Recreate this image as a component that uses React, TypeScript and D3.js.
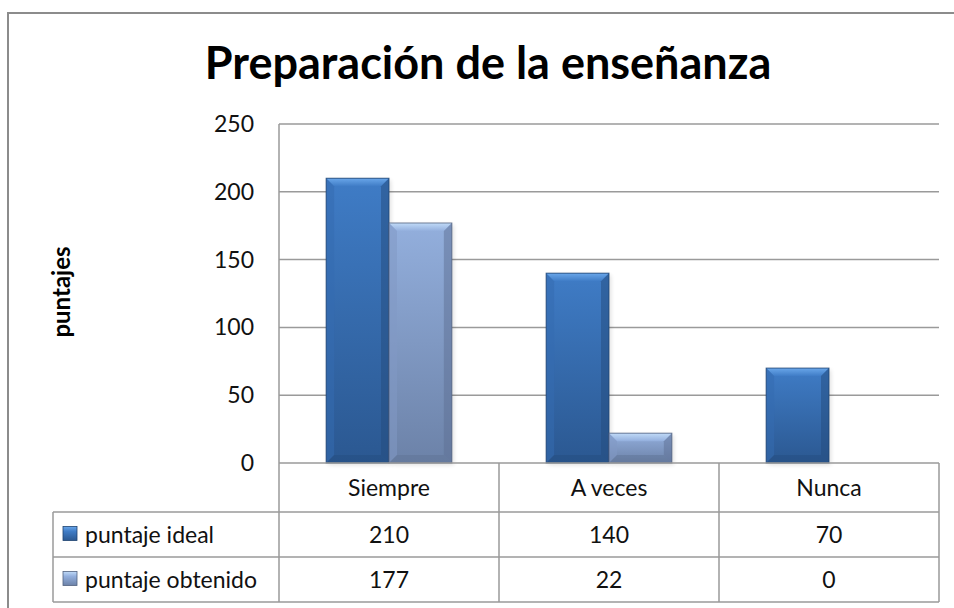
import React from "react";
import * as d3 from "d3";

// datos del gráfico
const categories = ["Siempre", "A veces", "Nunca"];
const seriesNames = ["puntaje ideal", "puntaje obtenido"];
const puntajeIdeal = [210, 140, 70];
const puntajeObtenido = [177, 22, 0];
const yTicks = [0, 50, 100, 150, 200, 250];

const W = 954;
const H = 608;
const FONT = "Lato, 'Open Sans', sans-serif";
const TXT = 23;

const plot = { left: 279, right: 939, top: 124, bottom: 463 };
const tableLeft = 53;
const rowH = 45;

const palette = [
  { top: "#3f7cc6", bottom: "#2b5891", bevel: "#6aa7ea", side: "#346bb0", dark: "#244b7e", edge: "#1f4370" },
  { top: "#93afdd", bottom: "#6c82a8", bevel: "#c1dbf8", side: "#8299c4", dark: "#5d7093", edge: "#52627f" },
];

const Bar = ({ x, y, w, h, i }: { x: number; y: number; w: number; h: number; i: number }) => {
  if (h <= 0) return null;
  const c = palette[i];
  const b = Math.min(8, h / 2);
  const pts = (a: number[][]) => a.map((p) => p.join(",")).join(" ");
  return (
    <g>
      <rect x={x + 2} y={y + 2} width={w} height={h} fill="#000" opacity={0.12} filter="url(#blur)" />
      <rect x={x} y={y} width={w} height={h} fill={`url(#body${i})`} />
      <polygon points={pts([[x, y], [x + w, y], [x + w - b, y + b], [x + b, y + b]])} fill={`url(#bev${i})`} />
      <polygon points={pts([[x, y], [x + b, y + b], [x + b, y + h - b], [x, y + h]])} fill={c.side} opacity={0.55} />
      <polygon points={pts([[x + w, y], [x + w - b, y + b], [x + w - b, y + h - b], [x + w, y + h]])} fill={c.dark} opacity={0.5} />
      <polygon points={pts([[x, y + h], [x + b, y + h - b], [x + w - b, y + h - b], [x + w, y + h]])} fill={c.dark} opacity={0.45} />
      <rect x={x} y={y} width={w} height={h} fill="none" stroke={c.edge} strokeWidth={1} opacity={0.8} />
    </g>
  );
};

export default function App() {
  const x0 = d3.scaleBand<string>().domain(categories).range([plot.left, plot.right]).padding(0);
  const x1 = d3.scaleBand<string>().domain(seriesNames).range([0, x0.bandwidth()]).paddingInner(0).paddingOuter(0.75);
  const y = d3.scaleLinear().domain([0, 250]).range([plot.bottom, plot.top]);
  const values = [puntajeIdeal, puntajeObtenido];

  const gridColor = "#9a9a9a";
  const rowTop = [plot.bottom, plot.bottom + 49, plot.bottom + 49 + rowH, plot.bottom + 49 + 2 * rowH];

  return (
    <svg width={W} height={H} style={{ position: "absolute", left: 0, top: 0 }} fontFamily={FONT}>
      <defs>
        <filter id="blur" x="-20%" y="-20%" width="140%" height="140%">
          <feGaussianBlur stdDeviation="2" />
        </filter>
        {palette.map((c, i) => (
          <React.Fragment key={i}>
            <linearGradient id={`body${i}`} x1="0" y1="0" x2="0" y2="1">
              <stop offset="0" stopColor={c.top} />
              <stop offset="1" stopColor={c.bottom} />
            </linearGradient>
            <linearGradient id={`bev${i}`} x1="0" y1="0" x2="0" y2="1">
              <stop offset="0" stopColor={c.bevel} />
              <stop offset="1" stopColor={c.top} />
            </linearGradient>
            <linearGradient id={`key${i}`} x1="0" y1="0" x2="0" y2="1">
              <stop offset="0" stopColor={c.bevel} />
              <stop offset="0.35" stopColor={c.top} />
              <stop offset="1" stopColor={c.bottom} />
            </linearGradient>
          </React.Fragment>
        ))}
      </defs>

      <rect x={0} y={0} width={W} height={H} fill="#fff" />
      <rect x={8} y={13} width={W + 20} height={H + 20} fill="none" stroke="#8c8c8c" strokeWidth={2} />

      <text x={488} y={79} textAnchor="middle" fontSize={45} fontWeight="bold" fill="#000">
        Preparación de la enseñanza
      </text>

      {/* cuadrícula */}
      {yTicks.map((t) => (
        <g key={t}>
          {t > 0 && <line x1={plot.left} x2={plot.right} y1={y(t)} y2={y(t)} stroke={gridColor} strokeWidth={1.5} />}
          <text x={254} y={y(t)} dy="0.35em" textAnchor="end" fontSize={TXT} fill="#111">
            {t}
          </text>
        </g>
      ))}
      <line x1={plot.left} x2={plot.left} y1={plot.top} y2={rowTop[3]} stroke={gridColor} strokeWidth={1.5} />

      <text transform={`translate(70,292) rotate(-90)`} textAnchor="middle" fontSize={24} fontWeight="bold" fill="#000">
        puntajes
      </text>

      {/* barras */}
      {categories.map((cat, ci) =>
        seriesNames.map((s, si) => {
          const v = values[si][ci];
          const bx = (x0(cat) ?? 0) + (x1(s) ?? 0);
          return <Bar key={cat + s} x={bx} y={y(v)} w={x1.bandwidth()} h={y(0) - y(v)} i={si} />;
        })
      )}

      {/* tabla de datos */}
      <line x1={plot.left} x2={plot.right} y1={rowTop[0]} y2={rowTop[0]} stroke={gridColor} strokeWidth={1.5} />
      {rowTop.slice(1).map((ry) => (
        <line key={ry} x1={tableLeft} x2={plot.right} y1={ry} y2={ry} stroke={gridColor} strokeWidth={1.5} />
      ))}
      <line x1={tableLeft} x2={tableLeft} y1={rowTop[1]} y2={rowTop[3]} stroke={gridColor} strokeWidth={1.5} />
      {categories.map((cat) => (
        <line key={cat} x1={(x0(cat) ?? 0) + x0.bandwidth()} x2={(x0(cat) ?? 0) + x0.bandwidth()} y1={rowTop[0]} y2={rowTop[3]} stroke={gridColor} strokeWidth={1.5} />
      ))}
      {categories.map((cat) => (
        <text key={cat} x={(x0(cat) ?? 0) + x0.bandwidth() / 2} y={(rowTop[0] + rowTop[1]) / 2} dy="0.35em" textAnchor="middle" fontSize={TXT} fill="#111">
          {cat}
        </text>
      ))}
      {seriesNames.map((s, si) => {
        const cy = (rowTop[si + 1] + rowTop[si + 2]) / 2;
        return (
          <g key={s}>
            <rect x={63} y={cy - 8} width={14} height={14} fill={`url(#key${si})`} stroke={palette[si].edge} strokeWidth={0.8} />
            <text x={85} y={cy} dy="0.35em" fontSize={TXT} fill="#111">
              {s}
            </text>
            {categories.map((cat, ci) => (
              <text key={cat} x={(x0(cat) ?? 0) + x0.bandwidth() / 2} y={cy} dy="0.35em" textAnchor="middle" fontSize={TXT} fill="#111">
                {values[si][ci]}
              </text>
            ))}
          </g>
        );
      })}
    </svg>
  );
}
